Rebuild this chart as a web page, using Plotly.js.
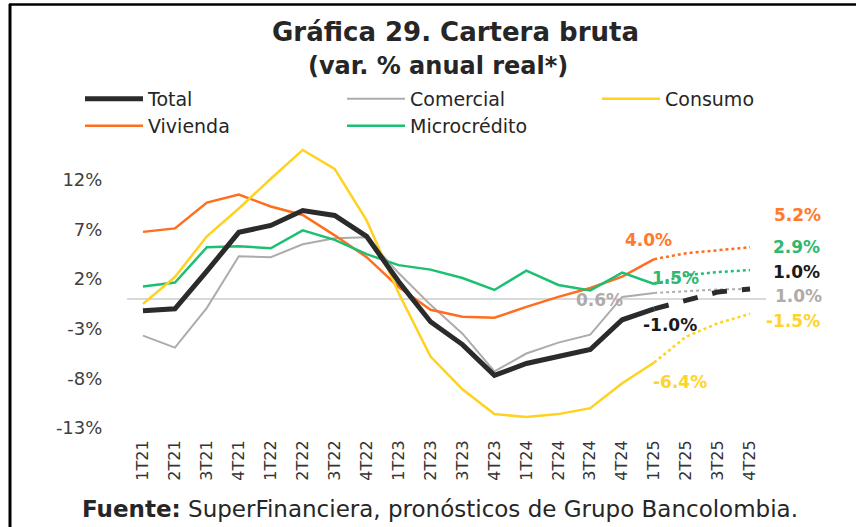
<!DOCTYPE html>
<html>
<head>
<meta charset="utf-8">
<script src="https://cdn.plot.ly/plotly-3.0.1.min.js"></script>
<style>
  html, body { margin: 0; padding: 0; background: #ffffff; }
  #chart { width: 856px; height: 527px; }
</style>
</head>
<body>
<div id="chart"></div>
<script>
// ---- Data ----
const categories = ["1T21","2T21","3T21","4T21","1T22","2T22","3T22","4T22",
                    "1T23","2T23","3T23","4T23","1T24","2T24","3T24","4T24",
                    "1T25","2T25","3T25","4T25"];
const forecastStart = 16; // 1T25: from here on the lines are forecasts

const total     = [-1.2, -1.0, 2.8, 6.7, 7.4, 8.9, 8.4, 6.3, 1.75, -2.3, -4.6, -7.7, -6.5, -5.8, -5.1, -2.1, -1.0, -0.1, 0.7, 1.0];
const comercial = [-3.7, -4.9, -0.9, 4.3, 4.2, 5.5, 6.1, 6.2, 2.6, -0.6, -3.5, -7.3, -5.5, -4.4, -3.6, 0.2, 0.6, 0.75, 0.95, 1.0];
const consumo   = [-0.5, 2.2, 6.3, 9.1, 12.1, 15.0, 13.1, 7.9, 0.6, -5.8, -9.1, -11.6, -11.9, -11.6, -11.0, -8.5, -6.4, -3.8, -2.45, -1.5];
const vivienda  = [6.75, 7.1, 9.7, 10.5, 9.3, 8.45, 6.4, 4.2, 1.2, -1.1, -1.8, -1.9, -0.8, 0.2, 1.1, 2.25, 4.0, 4.6, 4.9, 5.2];
const micro     = [1.25, 1.65, 5.2, 5.3, 5.1, 6.9, 5.95, 4.5, 3.4, 2.95, 2.1, 0.9, 2.85, 1.4, 0.85, 2.65, 1.5, 2.4, 2.7, 2.9];

const yTicks = [-13, -8, -3, 2, 7, 12];
const yTickText = yTicks.map(v => v + "%");

const titleLines = ["Gráfica 29. Cartera bruta", "(var. % anual real*)"];
const sourceText = "<b>Fuente:</b> SuperFinanciera, pronósticos de Grupo Bancolombia.";

// ---- Styles ----
const colTotal = "#2b2b2b", colCom = "#b0aba7", colCon = "#ffd21f",
      colViv = "#ff6d1f", colMic = "#1dbf73";
const labelFont = "DejaVu Sans, Verdana, sans-serif";

function hist(arr) { return arr.slice(0, forecastStart + 1); }
function fc(arr) { return arr.slice(forecastStart); }
const catHist = hist(categories), catFc = fc(categories);

function series(name, arr, color, width, fdash, legend) {
  return [
    { x: catHist, y: hist(arr), type: "scatter", mode: "lines", name: name,
      line: { color: color, width: width }, legend: legend, hoverinfo: "skip" },
    { x: catFc, y: fc(arr), type: "scatter", mode: "lines", showlegend: false,
      line: { color: color, width: width, dash: fdash }, legend: legend, hoverinfo: "skip" }
  ];
}

const data = [].concat(
  series("Comercial", comercial, colCom, 2, "dot", "legend2"),
  series("Vivienda", vivienda, colViv, 2.5, "dot", "legend4"),
  series("Microcrédito", micro, colMic, 2.5, "dot", "legend5"),
  series("Consumo", consumo, colCon, 2.5, "dot", "legend3"),
  series("Total", total, colTotal, 5, "dash", "legend")
);

// ---- Labels (values taken from the arrays) ----
const last = categories.length - 1, fs = forecastStart;
function lab(txt, xi, yv, color, dx, dy) {
  return { xref: "x", yref: "y", x: categories[xi], y: yv, text: "<b>" + txt + "</b>",
           showarrow: false, xshift: dx, yshift: dy,
           font: { family: labelFont, size: 17, color: color } };
}
function pct(v) { return v.toFixed(1) + "%"; }

const W = 856, H = 527, L = 127, R = 90, T = 140, B = 97;
const pw = W - L - R, ph = H - T - B;
function px(x) { return (x - L) / pw; }
function py(y) { return (H - B - y) / ph; }

const annotations = [
  lab(pct(vivienda[fs]), fs, vivienda[fs], "#ff7a2a", -6, 19),
  lab(pct(micro[fs]), fs, micro[fs], "#2fb870", 21, 6),
  lab(pct(comercial[fs]), fs, comercial[fs], "#b0aba7", -55, -7),
  lab(pct(total[fs]), fs, total[fs], "#1a1a1a", 16, -16),
  lab(pct(consumo[fs]), fs, consumo[fs], "#ffd42a", 26, -20),
  lab(pct(vivienda[last]), last, vivienda[last], "#ff7a2a", 47, 32),
  lab(pct(micro[last]), last, micro[last], "#2fb870", 46, 23),
  lab(pct(total[last]), last, total[last], "#1a1a1a", 46, 17),
  lab(pct(comercial[last]), last, comercial[last], "#b0aba7", 48, -7),
  lab(pct(consumo[last]), last, consumo[last], "#ffd42a", 43, -7),
  { xref: "paper", yref: "paper", x: px(455), y: py(32), xanchor: "center", yanchor: "middle",
    showarrow: false, text: "<b>" + titleLines[0] + "</b>",
    font: { family: labelFont, size: 26, color: "#262626" } },
  { xref: "paper", yref: "paper", x: px(438), y: py(66), xanchor: "center", yanchor: "middle",
    showarrow: false, text: "<b>" + titleLines[1] + "</b>",
    font: { family: labelFont, size: 24, color: "#262626" } },
  { xref: "paper", yref: "paper", x: px(440), y: py(509), xanchor: "center", yanchor: "middle",
    showarrow: false, text: sourceText,
    font: { family: labelFont, size: 23, color: "#262626" } }
];

function legendAt(x, y) {
  return { orientation: "v", xref: "container", yref: "container",
           x: x / W, xanchor: "left", y: 1 - y / H, yanchor: "middle",
           itemwidth: 58, bgcolor: "rgba(0,0,0,0)",
           font: { family: labelFont, size: 19, color: "#262626" } };
}

const layout = {
  width: W, height: H,
  margin: { l: L, r: R, t: T, b: B, autoexpand: false },
  paper_bgcolor: "#ffffff", plot_bgcolor: "#ffffff",
  xaxis: { type: "category", categoryorder: "array", categoryarray: categories,
           range: [-0.5, categories.length - 0.5], automargin: false,
           tickangle: -90, showgrid: false, zeroline: false, showline: false,
           ticks: "outside", ticklen: 3, tickcolor: "rgba(0,0,0,0)",
           tickfont: { family: labelFont, size: 16, color: "#333333" } },
  yaxis: { range: [-13.2, 16.0], tickmode: "array", tickvals: yTicks, ticktext: yTickText,
           automargin: false,
           showgrid: false, zeroline: true, zerolinecolor: "#d9d9d9", zerolinewidth: 1.5,
           showline: false, ticks: "outside", ticklen: 20, tickcolor: "rgba(0,0,0,0)",
           tickfont: { family: labelFont, size: 18, color: "#404040" } },
  legend: legendAt(80, 99),
  legend2: legendAt(342, 99),
  legend3: legendAt(597, 99),
  legend4: legendAt(80, 126),
  legend5: legendAt(342, 126),
  annotations: annotations,
  shapes: [
    { type: "line", xref: "paper", yref: "paper", x0: px(10), x1: px(10), y0: py(4), y1: py(H + 2),
      line: { color: "#000000", width: 3 } },
    { type: "line", xref: "paper", yref: "paper", x0: px(9), x1: px(W + 2), y0: py(4.5), y1: py(4.5),
      line: { color: "#000000", width: 2.5 } }
  ],
  showlegend: true
};

Plotly.newPlot("chart", data, layout, { displayModeBar: false, staticPlot: true });
</script>
</body>
</html>
